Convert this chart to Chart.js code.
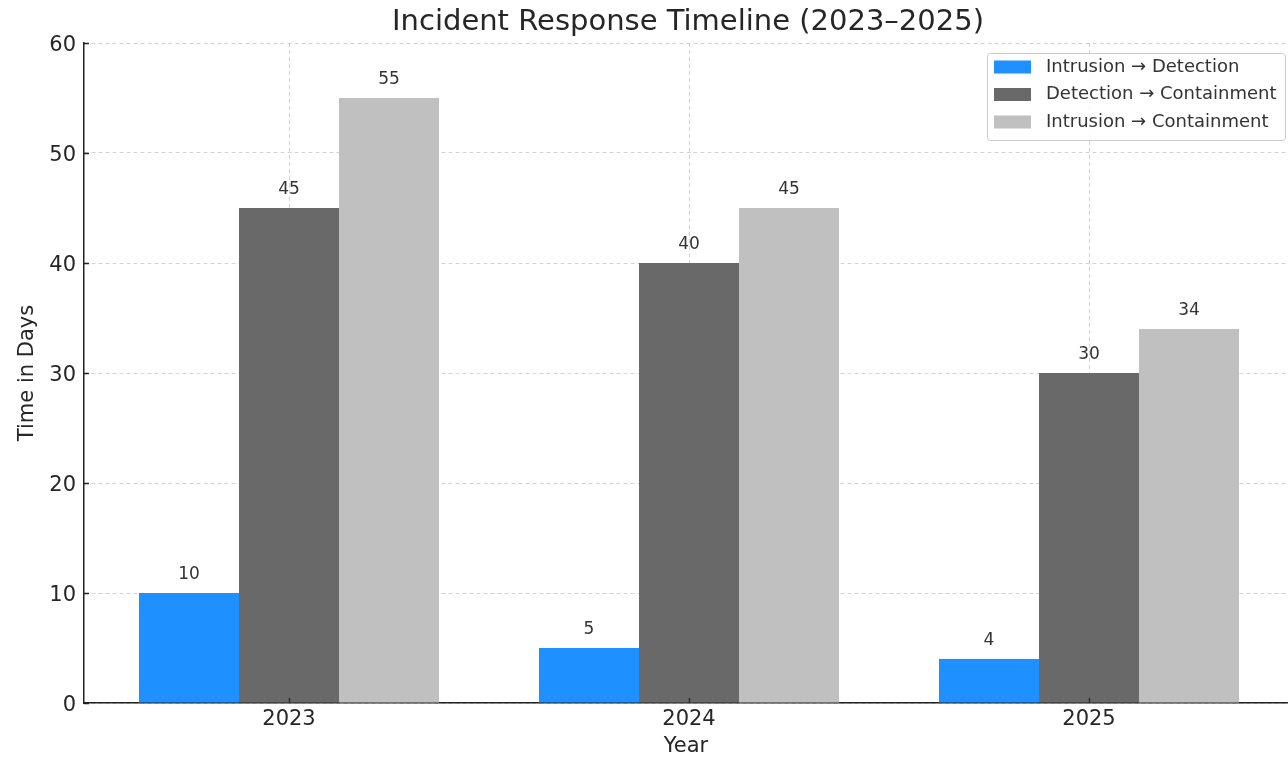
<!DOCTYPE html>
<html lang="en">
<head>
  <meta charset="UTF-8">
  <title>Incident Response Timeline</title>
  <script src="https://cdn.jsdelivr.net/npm/chart.js"></script>
  <style>
    body { margin: 0; background: #fff; }
  </style>
</head>
<body>
  <canvas id="myChart" width="1288" height="760"></canvas>
  <script>
    const years = ['2023', '2024', '2025'];
    const intrusionToDetection = [10, 5, 4];
    const detectionToContainment = [45, 40, 30];
    const intrusionToContainment = [55, 45, 34];
    const seriesLabels = ['Intrusion → Detection', 'Detection → Containment', 'Intrusion → Containment'];
    const seriesColors = ['#1E90FF', '#696969', '#C0C0C0'];

    const FONT = 'DejaVu Sans';
    const TEXT = '#262626';

    // bars sit at x = 0, 1, 2 on a linear axis so the plot can keep matplotlib's margins
    const toPoints = values => values.map((v, i) => ({ x: i, y: v }));

    // title, value labels, inward ticks and the legend box
    const extras = {
      id: 'extras',
      afterDraw(chart) {
        const ctx = chart.ctx;
        const area = chart.chartArea;
        const xs = chart.scales.x;
        const ys = chart.scales.y;
        ctx.save();

        ctx.fillStyle = TEXT;
        ctx.font = '29px "' + FONT + '"';
        ctx.textAlign = 'center';
        ctx.textBaseline = 'middle';
        ctx.fillText('Incident Response Timeline (2023–2025)', (area.left + area.right) / 2 + 2, 22);

        ctx.font = '17px "' + FONT + '"';
        ctx.fillStyle = '#333';
        ctx.textBaseline = 'alphabetic';
        chart.data.datasets.forEach((ds, i) => {
          chart.getDatasetMeta(i).data.forEach((bar, j) => {
            ctx.fillText(String(ds.data[j].y), bar.x, bar.y - 14);
          });
        });

        ctx.strokeStyle = '#222';
        ctx.lineWidth = 1.3;
        ctx.beginPath();
        ys.ticks.forEach(t => {
          const y = Math.round(ys.getPixelForValue(t.value)) + 0.5;
          ctx.moveTo(area.left, y);
          ctx.lineTo(area.left + 5, y);
        });
        years.forEach((c, i) => {
          const x = Math.round(xs.getPixelForValue(i)) + 0.5;
          ctx.moveTo(x, area.bottom);
          ctx.lineTo(x, area.bottom - 5);
        });
        ctx.stroke();

        const bx = area.right - 301, by = area.top + 10, bw = 298, bh = 87;
        ctx.fillStyle = 'rgba(255,255,255,0.85)';
        ctx.strokeStyle = '#cccccc';
        ctx.lineWidth = 1;
        ctx.beginPath();
        ctx.roundRect(bx + 0.5, by + 0.5, bw, bh, 3);
        ctx.fill();
        ctx.stroke();
        ctx.font = '18px "' + FONT + '"';
        ctx.textAlign = 'left';
        ctx.textBaseline = 'middle';
        seriesLabels.forEach((label, i) => {
          const cy = by + 14 + i * 27.5;
          ctx.fillStyle = seriesColors[i];
          ctx.fillRect(bx + 7, cy - 6.5, 37, 13);
          ctx.fillStyle = '#333';
          ctx.fillText(label, bx + 59, cy);
        });
        ctx.restore();
      }
    };

    const ctx = document.getElementById('myChart').getContext('2d');
    const myChart = new Chart(ctx, {
      type: 'bar',
      data: {
        datasets: [
          { label: seriesLabels[0], data: toPoints(intrusionToDetection), backgroundColor: seriesColors[0] },
          { label: seriesLabels[1], data: toPoints(detectionToContainment), backgroundColor: seriesColors[1] },
          { label: seriesLabels[2], data: toPoints(intrusionToContainment), backgroundColor: seriesColors[2] }
        ]
      },
      options: {
        responsive: false,
        animation: false,
        devicePixelRatio: 1,
        layout: { padding: { top: 43, right: 0, bottom: 0, left: 0 } },
        datasets: { bar: { barPercentage: 1, categoryPercentage: 0.75 } },
        plugins: {
          legend: { display: false },
          title: { display: false },
          tooltip: { enabled: false }
        },
        scales: {
          x: {
            type: 'linear',
            z: 1,
            offset: false,
            min: -0.5125,
            max: 2.4975,
            afterBuildTicks(scale) { scale.ticks = years.map((y, i) => ({ value: i })); },
            grid: { offset: false, color: 'rgba(176,176,176,0.55)', lineWidth: 1, drawTicks: false },
            border: { display: true, color: '#222', width: 1.5, dash: [4, 3] },
            ticks: {
              font: { family: FONT, size: 21 }, color: TEXT, padding: 4,
              callback: value => years[value]
            },
            title: { display: true, text: 'Year', font: { family: FONT, size: 21 }, color: TEXT, padding: { top: 0, bottom: 1 } },
            afterFit(scale) { scale.height = 57; }
          },
          y: {
            z: 1,
            min: 0,
            max: 60,
            grid: { color: 'rgba(176,176,176,0.55)', lineWidth: 1, drawTicks: false },
            border: { display: true, color: '#222', width: 1.5, dash: [4, 3] },
            ticks: { stepSize: 10, font: { family: FONT, size: 21 }, color: TEXT, padding: 8, labelOffset: 3 },
            title: { display: true, text: 'Time in Days', font: { family: FONT, size: 21 }, color: TEXT, padding: { top: 15, bottom: 0 } },
            afterFit(scale) { scale.width = 84; }
          }
        }
      },
      plugins: [extras]
    });
  </script>
</body>
</html>
